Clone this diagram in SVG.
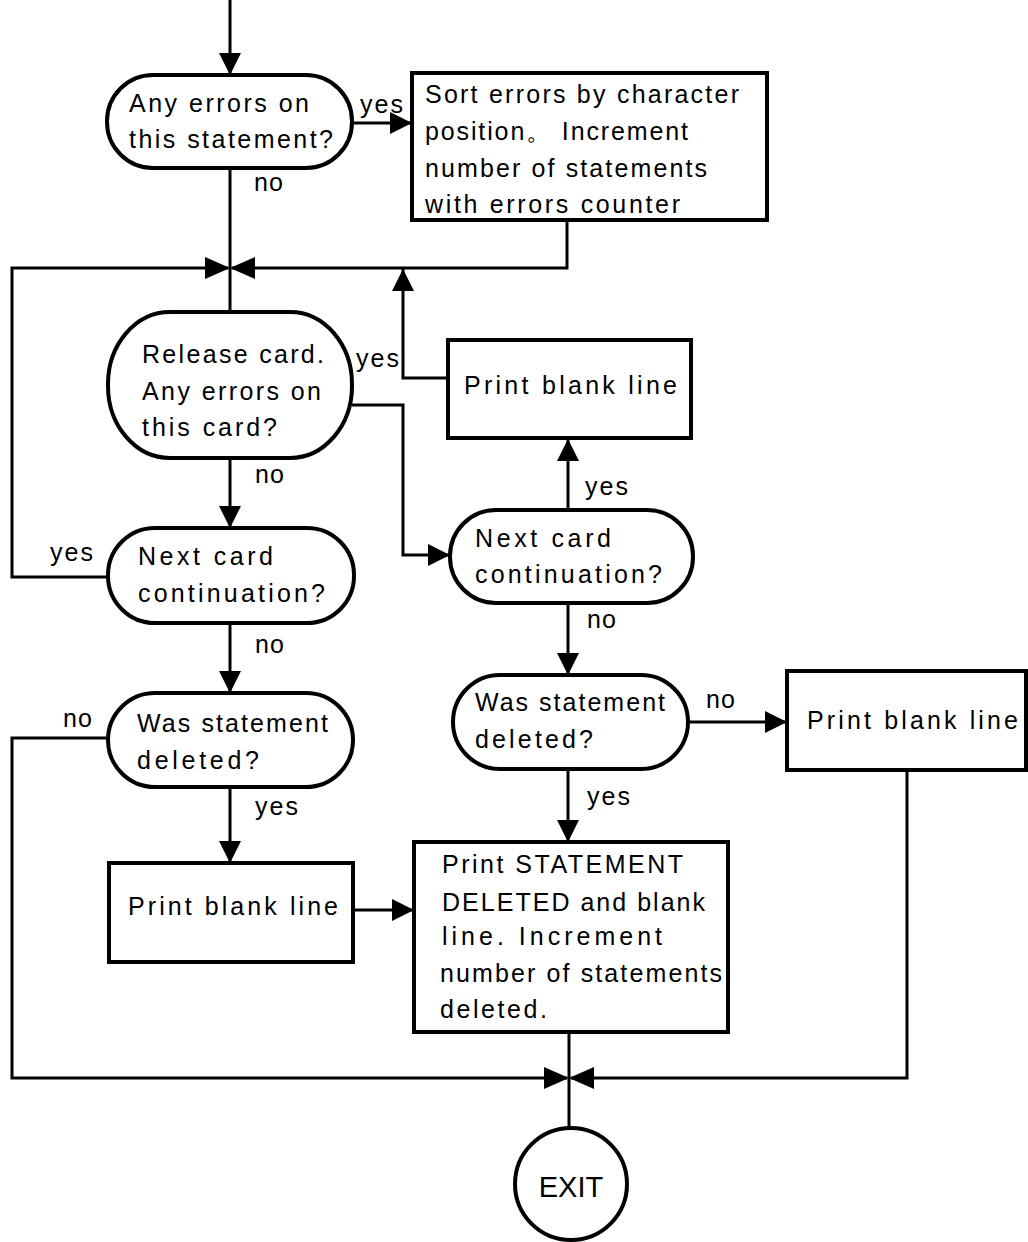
<svg xmlns="http://www.w3.org/2000/svg" width="1028" height="1242" viewBox="0 0 1028 1242">
<style>
.sh{fill:#fff;stroke:#000;stroke-width:4}
.ln{fill:none;stroke:#000;stroke-width:3}
.t{font-family:"Liberation Sans",Arial,sans-serif;font-size:25px;fill:#000}
.ah{fill:#000}
</style>
<defs>
<marker id="b" viewBox="0 0 10 10" refX="10" refY="5" markerWidth="22" markerHeight="22" markerUnits="userSpaceOnUse" orient="auto">
<path d="M0,0L10,5L0,10z"/>
</marker>
</defs>
<g id="n1"><rect class="sh" x="107" y="75" width="245" height="93" rx="46"/>
<text class="t" x="129" y="112" textLength="180">Any errors on</text>
<text class="t" x="129" y="148" textLength="204">this statement?</text></g>
<g id="n2"><rect class="sh" x="412" y="73" width="355" height="147"/>
<text class="t" x="425" y="103" textLength="314">Sort errors by character</text>
<text class="t" x="425" y="140" textLength="263">position。 Increment</text>
<text class="t" x="425" y="177" textLength="282">number of statements</text>
<text class="t" x="425" y="213" textLength="255">with errors counter</text></g>
<g id="n3"><rect class="sh" x="108" y="312" width="244" height="146" rx="62" ry="72"/>
<text class="t" x="142" y="363" textLength="182">Release card.</text>
<text class="t" x="142" y="400" textLength="179">Any errors on</text>
<text class="t" x="142" y="436" textLength="135">this card?</text></g>
<g id="n4"><rect class="sh" x="448" y="340" width="243" height="98"/>
<text class="t" x="464" y="394" textLength="213">Print blank line</text></g>
<g id="n5"><rect class="sh" x="450" y="510" width="243" height="93" rx="46"/>
<text class="t" x="475" y="547" textLength="136">Next card</text>
<text class="t" x="475" y="583" textLength="187">continuation?</text></g>
<g id="n6"><rect class="sh" x="108" y="528" width="246" height="95" rx="47"/>
<text class="t" x="138" y="565" textLength="135">Next card</text>
<text class="t" x="138" y="602" textLength="187">continuation?</text></g>
<g id="n7"><rect class="sh" x="108" y="693" width="245" height="94" rx="47"/>
<text class="t" x="137" y="732" textLength="191">Was statement</text>
<text class="t" x="137" y="769" textLength="122">deleted?</text></g>
<g id="n8"><rect class="sh" x="453" y="675" width="235" height="94" rx="47"/>
<text class="t" x="475" y="711" textLength="190">Was statement</text>
<text class="t" x="475" y="748" textLength="118">deleted?</text></g>
<g id="n9"><rect class="sh" x="787" y="671" width="239" height="99"/>
<text class="t" x="807" y="729" textLength="211">Print blank line</text></g>
<g id="n10"><rect class="sh" x="109" y="863" width="244" height="99"/>
<text class="t" x="128" y="915" textLength="210">Print blank line</text></g>
<g id="n11"><rect class="sh" x="414" y="842" width="314" height="190"/>
<text class="t" x="442" y="873" textLength="241">Print STATEMENT</text>
<text class="t" x="442" y="911" textLength="263">DELETED and blank</text>
<text class="t" x="442" y="945" textLength="220">line.   Increment</text>
<text class="t" x="440" y="982" textLength="282">number of statements</text>
<text class="t" x="440" y="1018" textLength="107">deleted.</text></g>
<g id="n12"><circle class="sh" cx="571" cy="1184" r="56"/>
<text class="t" x="571" y="1197" text-anchor="middle" style="font-size:29px">EXIT</text></g>
<g id="connectors">
<path class="ln" d="M230,0V75" marker-end="url(#b)"/>
<path class="ln" d="M352,123H412" marker-end="url(#b)"/>
<path class="ln" d="M230,168V312"/>
<path class="ln" d="M567,220V268H232"/>
<path class="ln" d="M108,577H12V268H228"/>
<path class="ah" d="M205,257L230,268L205,279z"/>
<path class="ah" d="M255,257L230,268L255,279z"/>
<path class="ln" d="M448,378H403V269" marker-end="url(#b)"/>
<path class="ln" d="M352,405H403V555H450" marker-end="url(#b)"/>
<path class="ln" d="M230,458V528" marker-end="url(#b)"/>
<path class="ln" d="M568,510V439" marker-end="url(#b)"/>
<path class="ln" d="M568,603V675" marker-end="url(#b)"/>
<path class="ln" d="M230,623V693" marker-end="url(#b)"/>
<path class="ln" d="M108,738H12V1078H567"/>
<path class="ln" d="M230,787V863" marker-end="url(#b)"/>
<path class="ln" d="M353,910H414" marker-end="url(#b)"/>
<path class="ln" d="M688,722H787" marker-end="url(#b)"/>
<path class="ln" d="M568,769V842" marker-end="url(#b)"/>
<path class="ln" d="M907,770V1078H571"/>
<path class="ln" d="M569,1032V1128"/>
<path class="ah" d="M544,1067L569,1078L544,1089z"/>
<path class="ah" d="M594,1067L569,1078L594,1089z"/>
<text class="t" x="360" y="113" textLength="43">yes</text>
<text class="t" x="254" y="191" textLength="29">no</text>
<text class="t" x="356" y="367" textLength="43">yes</text>
<text class="t" x="255" y="483" textLength="29">no</text>
<text class="t" x="50" y="561" textLength="43">yes</text>
<text class="t" x="585" y="495" textLength="43">yes</text>
<text class="t" x="587" y="628" textLength="29">no</text>
<text class="t" x="255" y="653" textLength="29">no</text>
<text class="t" x="63" y="727" textLength="29">no</text>
<text class="t" x="255" y="815" textLength="43">yes</text>
<text class="t" x="706" y="708" textLength="29">no</text>
<text class="t" x="587" y="805" textLength="43">yes</text>
</g>
</svg>
